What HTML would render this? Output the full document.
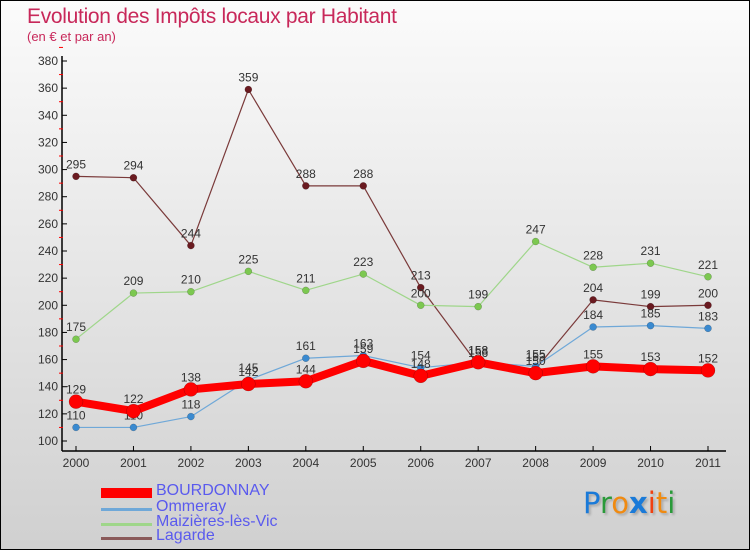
<!DOCTYPE html>
<html><head><meta charset="utf-8"><style>
body{margin:0;width:750px;height:550px;overflow:hidden;font-family:"Liberation Sans",sans-serif}
#wrap{position:relative;width:748px;height:548px;border:1px solid #000;background:linear-gradient(#fbfbfb,#d0d0d0)}
.t{position:absolute;left:26px;top:4px;font-size:21px;color:#c8285a;letter-spacing:-0.3px}
.s{position:absolute;left:26px;top:28px;font-size:13px;color:#c8285a}
.lg{position:absolute;left:100px;width:300px;height:16px}
.lg i{position:absolute;left:0;width:51px;top:50%}
.lg span{position:absolute;left:55px;top:-3px;font-size:16px;color:#5a5aee}
.px{position:absolute;left:582px;top:485px;font-size:29px;font-family:"DejaVu Sans",sans-serif;text-shadow:2px 2px 2px #aaa}
</style></head><body>
<div id="wrap">
<div class="t">Evolution des Impôts locaux par Habitant</div>
<div class="s">(en € et par an)</div>
<svg id="svg" width="748" height="548" style="position:absolute;left:0;top:0"></svg>
<div class="lg" style="top:484px"><i style="height:10px;margin-top:-5px;background:#f00"></i><span>BOURDONNAY</span></div>
<div class="lg" style="top:500px"><i style="height:3px;margin-top:-1px;background:#6fa8d8"></i><span>Ommeray</span></div>
<div class="lg" style="top:515px"><i style="height:3px;margin-top:-1px;background:#9fd68a"></i><span>Maizières-lès-Vic</span></div>
<div class="lg" style="top:529px"><i style="height:3px;margin-top:-1px;background:#8a5a5a"></i><span>Lagarde</span></div>
<div class="px"><span style="color:#1a7ad8">P</span><span style="color:#2a9a3a">r</span><span style="color:#f08a10">o</span><span style="color:#1a7ad8;font-weight:bold">x</span><span style="color:#f04010">i</span><span style="color:#f08a10">t</span><span style="color:#2a9a3a">i</span></div>
</div>
<script>
const years=["2000","2001","2002","2003","2004","2005","2006","2007","2008","2009","2010","2011"];
const yTicks=[100,120,140,160,180,200,220,240,260,280,300,320,340,360,380];
const bourdonnay=[129,122,138,142,144,159,148,158,150,155,153,152];
const ommeray=[110,110,118,145,161,163,154,158,155,184,185,183];
const maizieres=[175,209,210,225,211,223,200,199,247,228,231,221];
const lagarde=[295,294,244,359,288,288,213,156,153,204,199,200];
const svg=document.getElementById('svg');const NS='http://www.w3.org/2000/svg';
const X=i=>75+i*(632/11);const Y=v=>440-(v-100)*(380/280);
function mk(t,a,p){const e=document.createElementNS(NS,t);for(const k in a)e.setAttribute(k,a[k]);(p||svg).appendChild(e);return e;}
let ax=mk('line',{x1:61,y1:55,x2:61,y2:450,stroke:'#000','stroke-width':1.5});

let bx=mk('line',{x1:61,y1:450,x2:725,y2:450,stroke:'#000','stroke-width':1.5});

yTicks.forEach(v=>{mk('line',{x1:61,y1:Y(v),x2:66,y2:Y(v),stroke:'#000'});
 mk('line',{x1:58,y1:Y(v+10),x2:62,y2:Y(v+10),stroke:'#f00'});
 const t=mk('text',{x:57,y:Y(v)+4,'text-anchor':'end','font-size':12,fill:'#333'});t.textContent=v;
 });
years.forEach((y,i)=>{mk('line',{x1:X(i),y1:445,x2:X(i),y2:450,stroke:'#000'});
 const t=mk('text',{x:X(i),y:466,'text-anchor':'middle','font-size':12,fill:'#333'});t.textContent=y;
 });
function series(d,col,w,r,dot,name){
 const g=mk('g',{});
 mk('polyline',{points:d.map((v,i)=>X(i)+','+Y(v)).join(' '),fill:'none',stroke:col,'stroke-width':w,'stroke-linejoin':'round'},g);
 d.forEach((v,i)=>{const c=mk('circle',{cx:X(i),cy:Y(v),r:r,fill:dot,stroke:'rgba(0,0,0,0.3)','stroke-width':0.5},g);
  
  const t=mk('text',{x:X(i),y:Y(v)-8,'text-anchor':'middle','font-size':12,fill:'#333'},g);t.textContent=v;});
}
series(lagarde,'#7a3a3a',1.2,3.5,'#6a1a20','lagarde');
series(maizieres,'#9fd68a',1.2,3.5,'#7cc850','maizieres');
series(ommeray,'#6fa8d8',1.2,3.5,'#3a8ad0','ommeray');
series(bourdonnay,'#f00',8,7,'#f00','bourdonnay');
</script>
</body></html>
